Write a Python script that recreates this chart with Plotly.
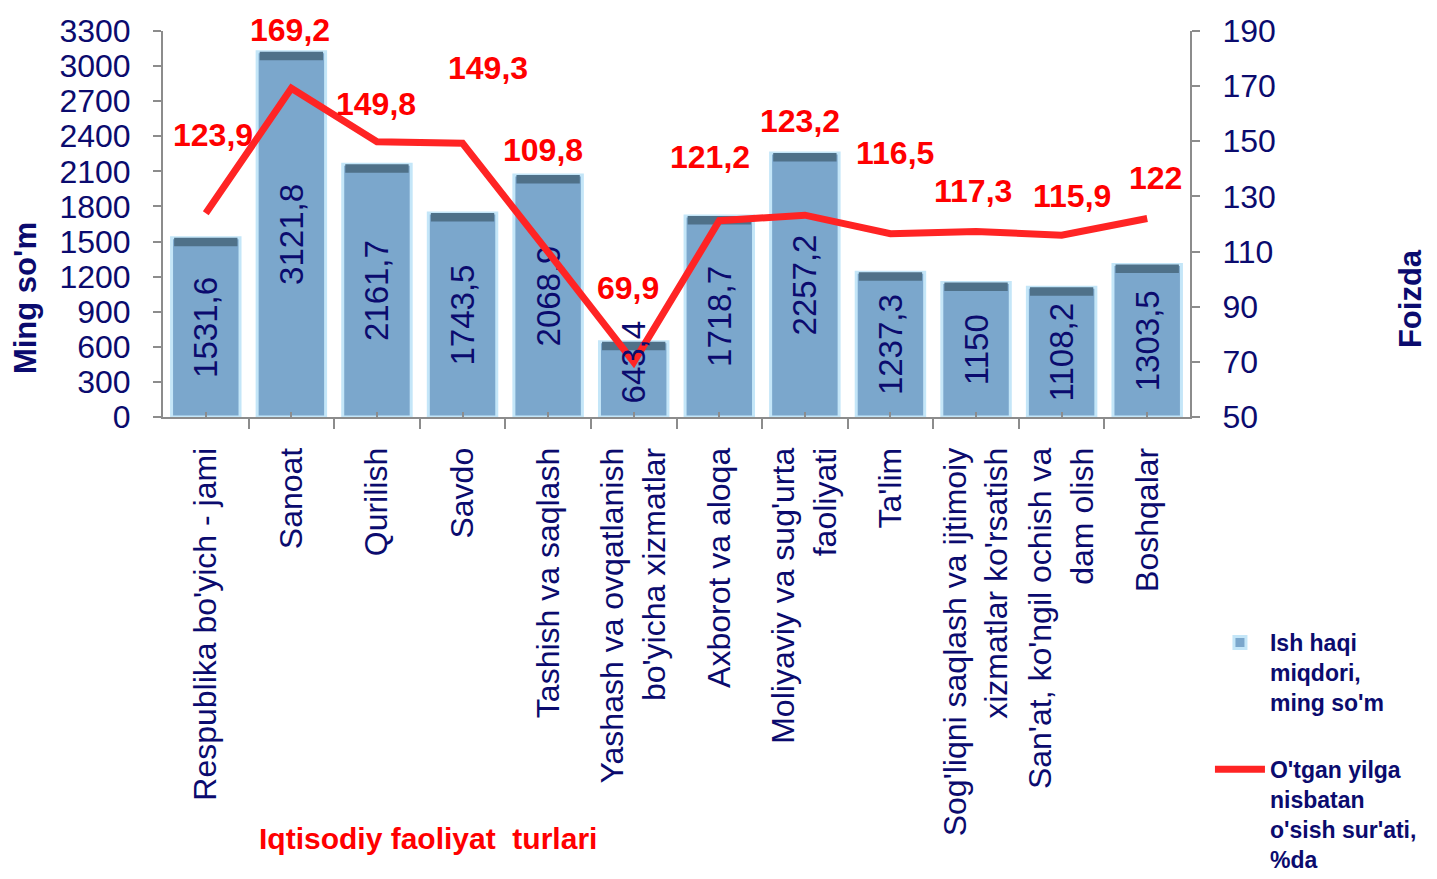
import plotly.graph_objects as go

categories = [
    "Respublika bo'yich - jami",
    "Sanoat",
    "Qurilish",
    "Savdo",
    "Tashish va saqlash",
    "Yashash va ovqatlanish<br>bo'yicha xizmatlar",
    "Axborot va aloqa",
    "Moliyaviy va sug'urta<br>faoliyati",
    "Ta'lim",
    "Sog'liqni saqlash va ijtimoiy<br>xizmatlar ko'rsatish",
    "San'at, ko'ngil ochish va<br>dam olish",
    "Boshqalar",
]
wages = [1531.6, 3121.8, 2161.7, 1743.5, 2068.9, 643.4, 1718.7, 2257.2, 1237.3, 1150, 1108.2, 1303.5]
growth = [123.9, 169.2, 149.8, 149.3, 109.8, 69.9, 121.2, 123.2, 116.5, 117.3, 115.9, 122]

bar_name = "Ish haqi<br>miqdori,<br>ming so'm"
line_name = "O'tgan yilga<br>nisbatan<br>o'sish sur'ati,<br>%da"

# label placement offsets (pixels) for the growth labels
label_dy = [78, 58, 38, 75, 102, 74, 64, 94, 81, 40, 39, 40]
label_dx = [7, -1, -1, 25, -5, -6, -9, -5, 5, -3, 10, 8]
# bars whose value label is too long for the bar: drawn as annotation instead
short_bar_shift = -20

NAVY = "#0b0b6e"
RED = "#ff0000"
GRAY = "#8c8c8c"
FONT = "Liberation Sans, Arial, sans-serif"


def fmt(v):
    if float(v).is_integer():
        return str(int(v))
    return f"{v:.1f}".replace(".", ",")


x = list(range(len(categories)))
cap = 3300 * 0.022
short = [v < 900 for v in wages]

fig = go.Figure()
fig.add_trace(go.Bar(
    x=x, y=wages, name=bar_name, width=0.8,
    marker=dict(color="#7ba7cc", line=dict(color="#c4e6f8", width=3)),
    text=["" if s else fmt(v) for v, s in zip(wages, short)], textposition="inside",
    insidetextanchor="middle", textangle=-90, constraintext="none",
    insidetextfont=dict(family=FONT, size=33, color=NAVY),
    legendgroup="a",
))
fig.add_trace(go.Bar(
    x=x, y=[cap] * len(wages), base=[v - cap for v in wages], width=0.74,
    marker=dict(color="#4f7189", line=dict(width=0)),
    showlegend=False, hoverinfo="skip", legendgroup="a",
))
fig.add_trace(go.Scatter(
    x=x, y=growth, name=line_name, yaxis="y2", mode="lines",
    line=dict(color="#ff2424", width=7), legendgroup="b",
))

annotations = []
for i, (v, s) in enumerate(zip(wages, short)):
    if s:
        annotations.append(dict(
            x=x[i], y=v, xref="x", yref="y", text=fmt(v), showarrow=False,
            textangle=-90, yshift=short_bar_shift, xanchor="center", yanchor="middle",
            font=dict(family=FONT, size=33, color=NAVY),
        ))
for i, g in enumerate(growth):
    annotations.append(dict(
        x=x[i], y=g, xref="x", yref="y2", text=fmt(g), showarrow=False,
        xshift=label_dx[i], yshift=label_dy[i], xanchor="center", yanchor="middle",
        font=dict(family=FONT, size=32, color=RED, weight="bold"),
    ))
annotations += [
    dict(text="Ming so'm", xref="paper", yref="paper", x=-0.1344, y=0.308,
         textangle=-90, showarrow=False, xanchor="center", yanchor="middle",
         font=dict(family=FONT, size=31, color=NAVY, weight="bold")),
    dict(text="Foizda", xref="paper", yref="paper", x=1.2142, y=0.308,
         textangle=-90, showarrow=False, xanchor="center", yanchor="middle",
         font=dict(family=FONT, size=31, color=NAVY, weight="bold")),
    dict(text="Iqtisodiy faoliyat  turlari", xref="paper", yref="paper",
         x=0.258, y=-1.0907, showarrow=False, xanchor="center", yanchor="middle",
         font=dict(family=FONT, size=30, color=RED, weight="bold")),
]

fig.update_layout(
    width=1437, height=879,
    margin=dict(l=163, r=247, t=31, b=462, autoexpand=False),
    plot_bgcolor="white", paper_bgcolor="white",
    barmode="overlay",
    font=dict(family=FONT, color=NAVY),
    showlegend=True,
    legend=dict(
        xref="container", yref="container",
        x=0.842, y=0.2935, xanchor="left", yanchor="top",
        font=dict(family=FONT, size=23, color=NAVY, weight="bold"),
        traceorder="grouped", tracegroupgap=34, valign="top",
        itemwidth=50, bgcolor="rgba(0,0,0,0)",
    ),
    xaxis=dict(
        range=[-0.5, len(categories) - 0.5],
        tickmode="array", tickvals=x, ticktext=categories,
        tickangle=-90, tickfont=dict(family=FONT, size=32, color=NAVY),
        ticks="inside", ticklen=5, tickcolor=GRAY, tickwidth=2,
        ticklabelstandoff=16,
        minor=dict(tickmode="array", tickvals=[i - 0.5 for i in range(len(categories) + 1)],
                   ticks="outside", ticklen=10, tickcolor=GRAY, tickwidth=2),
        showline=True, linecolor=GRAY, linewidth=2,
        showgrid=False, zeroline=False, automargin=False,
    ),
    yaxis=dict(
        range=[0, 3300], dtick=300, tick0=0,
        tickfont=dict(family=FONT, size=32, color=NAVY),
        ticks="outside", ticklen=8, tickcolor=GRAY, tickwidth=2,
        ticklabelstandoff=16,
        showline=True, linecolor=GRAY, linewidth=2,
        showgrid=False, zeroline=False, automargin=False,
    ),
    yaxis2=dict(
        range=[50, 190], dtick=20, tick0=50,
        overlaying="y", side="right",
        tickfont=dict(family=FONT, size=32, color=NAVY),
        ticks="outside", ticklen=8, tickcolor=GRAY, tickwidth=2,
        ticklabelstandoff=16,
        showline=True, linecolor=GRAY, linewidth=2,
        showgrid=False, zeroline=False, automargin=False,
    ),
    annotations=annotations,
)

fig.write_html("out.html", config={"displayModeBar": False},
               post_script="document.body.style.margin='0';")
